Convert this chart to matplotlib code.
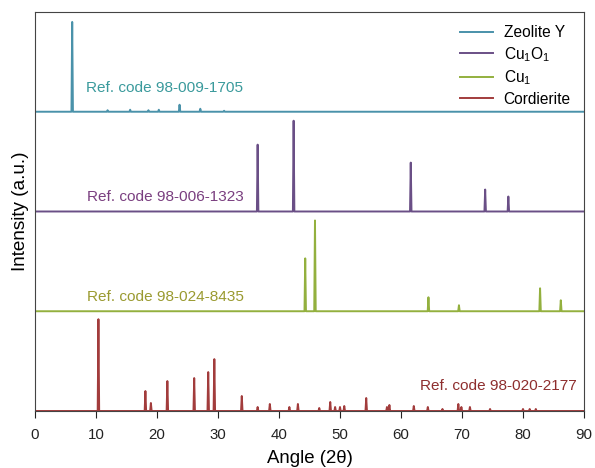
import numpy as np
import matplotlib.pyplot as plt

plt.rcParams['font.family'] = ['Liberation Sans', 'DejaVu Sans']
plt.rcParams['mathtext.default'] = 'regular'

# peak positions (2theta) and relative heights
zeo_pos = [6.1, 11.9, 15.6, 18.6, 20.3, 23.7, 27.1, 31.0]
zeo_int = [0.90, 0.015, 0.02, 0.015, 0.02, 0.07, 0.03, 0.01]

cuo_pos = [36.5, 42.4, 61.6, 73.8, 77.6]
cuo_int = [0.67, 0.91, 0.49, 0.22, 0.15]

cu_pos = [44.3, 45.9, 64.5, 69.5, 82.8, 86.2]
cu_int = [0.53, 0.91, 0.14, 0.06, 0.23, 0.11]

cord_pos = [10.4, 18.1, 19.0, 21.7, 26.1, 28.4, 29.4, 33.9, 36.5, 38.5, 41.7, 43.1,
            46.6, 48.4, 49.2, 50.0, 50.7, 54.3, 57.7, 58.1, 62.1, 64.4, 66.8,
            69.4, 69.9, 71.3, 74.6, 80.0, 81.1, 82.1]
cord_int = [0.92, 0.20, 0.08, 0.30, 0.33, 0.39, 0.52, 0.15, 0.04, 0.07, 0.04, 0.07,
            0.03, 0.09, 0.04, 0.04, 0.05, 0.13, 0.04, 0.06, 0.05, 0.04, 0.02,
            0.07, 0.04, 0.04, 0.02, 0.02, 0.02, 0.02]

names = ['Zeolite Y', 'Cu$_1$O$_1$', 'Cu$_1$', 'Cordierite']
codes = ['Ref. code 98-009-1705', 'Ref. code 98-006-1323',
         'Ref. code 98-024-8435', 'Ref. code 98-020-2177']
line_colors = ['#4a92aa', '#6a4f86', '#93b03e', '#a23c3c']
text_colors = ['#3a9a9c', '#7a3f80', '#9a9a30', '#8e2e2e']


def stick_profile(pos, inten, w=0.12):
    xs = [0]
    ys = [0]
    for p, h in sorted(zip(pos, inten)):
        xs += [p - w, p, p + w]
        ys += [0, h, 0]
    xs.append(90)
    ys.append(0)
    return np.array(xs), np.array(ys)


fig = plt.figure(figsize=(5.95, 4.68), dpi=100)
ax = fig.add_axes([0.0588, 0.1218, 0.9227, 0.8526])

series = [(zeo_pos, zeo_int), (cuo_pos, cuo_int), (cu_pos, cu_int), (cord_pos, cord_int)]
offsets = [3, 2, 1, 0]
for (pos, inten), off, name, c in zip(series, offsets, names, line_colors):
    x, y = stick_profile(pos, inten)
    ax.plot(x, y + off, color=c, lw=1.4, label=name)

ax.text(8.3, 3.24, codes[0], color=text_colors[0], fontsize=11.1, va='center', ha='left')
ax.text(8.5, 2.15, codes[1], color=text_colors[1], fontsize=11.1, va='center', ha='left')
ax.text(8.5, 1.14, codes[2], color=text_colors[2], fontsize=11.1, va='center', ha='left')
ax.text(88.8, 0.255, codes[3], color=text_colors[3], fontsize=11.1, va='center', ha='right')

ax.set_xlim(0, 90)
ax.set_ylim(0, 4)
ax.set_xticks(range(0, 91, 10))
ax.set_yticks([])
ax.tick_params(axis='x', direction='out', length=5, pad=7.5, labelsize=10.8, colors='#222222')
for s in ax.spines.values():
    s.set_color('#444444')
ax.set_xlabel('Angle (2\u03b8)', fontsize=13.4, labelpad=5.5)
ax.set_ylabel('Intensity (a.u.)', fontsize=13.6, labelpad=4)

ax.legend(loc='upper right', frameon=False, fontsize=11.2, handlelength=2.1,
          handletextpad=0.7, labelspacing=0.3, borderaxespad=0.45)

plt.savefig('out.png', dpi=100)
